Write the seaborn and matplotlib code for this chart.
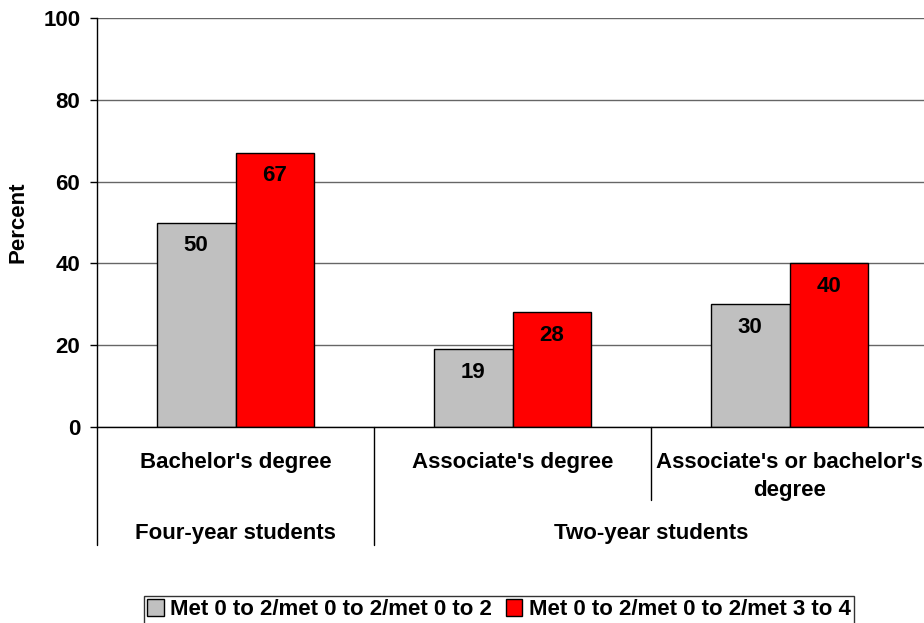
import matplotlib
matplotlib.use('Agg')
import matplotlib.pyplot as plt
import matplotlib.transforms as mtransforms
import seaborn as sns
import pandas as pd

categories = ["Bachelor's degree", "Associate's degree", "Associate's or bachelor's\ndegree"]
groups = ["Four-year students", "Two-year students"]
series = ["Met 0 to 2/met 0 to 2/met 0 to 2", "Met 0 to 2/met 0 to 2/met 3 to 4"]
grey_vals = [50, 19, 30]
red_vals = [67, 28, 40]
yticks = [0, 20, 40, 60, 80, 100]

sns.set_style('white')
plt.rcParams['font.family'] = ['Liberation Sans', 'DejaVu Sans']
plt.rcParams['font.weight'] = 'bold'
plt.rcParams['text.color'] = 'black'
plt.rcParams['axes.labelcolor'] = 'black'
plt.rcParams['xtick.color'] = 'black'
plt.rcParams['ytick.color'] = 'black'

FS = 16
W, H = 924, 623
fig = plt.figure(figsize=(W / 100, H / 100), dpi=100)
ax = fig.add_axes([97 / W, 1 - 427 / H, (928 - 97) / W, (427 - 18) / H])

df = pd.DataFrame({
    'category': categories * 2,
    'series': [series[0]] * 3 + [series[1]] * 3,
    'value': grey_vals + red_vals,
})
sns.barplot(data=df, x='category', y='value', hue='series', order=categories,
            palette=['#C0C0C0', '#FF0000'], saturation=1, width=0.57,
            edgecolor='black', linewidth=1, ax=ax)

handles, labels = ax.get_legend_handles_labels()
ax.get_legend().remove()

for cont in ax.containers:
    ax.bar_label(cont, padding=-24, fontsize=FS, fontweight='bold')

ax.set_ylim(0, 100)
ax.set_xlim(-0.5, 2.5)
ax.set_yticks(yticks)
ax.set_yticklabels([str(t) for t in yticks], fontsize=FS, fontweight='bold')
ax.tick_params(axis='y', length=5, width=1, color='black', direction='out', pad=7, left=True)
ax.set_xticks([])
ax.set_xlabel('')
ax.set_ylabel('Percent', fontsize=FS, fontweight='bold')
ax.yaxis.set_label_coords(-0.083, 0.5)
ax.yaxis.grid(True, color='#666666', linewidth=1)
ax.set_axisbelow(True)
for s in ['top', 'right']:
    ax.spines[s].set_visible(False)
for s in ['left', 'bottom']:
    ax.spines[s].set_color('black')
    ax.spines[s].set_linewidth(1)

# category / group labels under the axis
ax_h = 427 - 18
trans = mtransforms.blended_transform_factory(ax.transData, ax.transAxes)
def yfrac(px):
    return (427 - px) / ax_h

for i, c in enumerate(categories):
    ax.text(i, yfrac(452), c, transform=trans, ha='center', va='top',
            fontsize=FS, fontweight='bold', linespacing=1.45)
ax.text(0, yfrac(534), groups[0], transform=trans, ha='center', va='center',
        fontsize=FS, fontweight='bold')
ax.text(1.5, yfrac(534), groups[1], transform=trans, ha='center', va='center',
        fontsize=FS, fontweight='bold')

# separator lines
for xpos, ybot in [(-0.5, 545), (0.5, 545), (1.5, 500)]:
    ax.plot([xpos, xpos], [0, yfrac(ybot)], transform=trans, color='black',
            linewidth=1, clip_on=False)

leg = fig.legend(handles, labels, loc='upper center', bbox_to_anchor=(499 / W, 1 - 596 / H),
                 ncol=2, frameon=True, fancybox=False, edgecolor='black',
                 prop={'weight': 'bold', 'size': FS}, handlelength=0.75, handleheight=0.75,
                 handletextpad=0.3, columnspacing=0.6, borderpad=0.15, borderaxespad=0)
leg.get_frame().set_linewidth(1)

fig.savefig('out.png', dpi=100)
